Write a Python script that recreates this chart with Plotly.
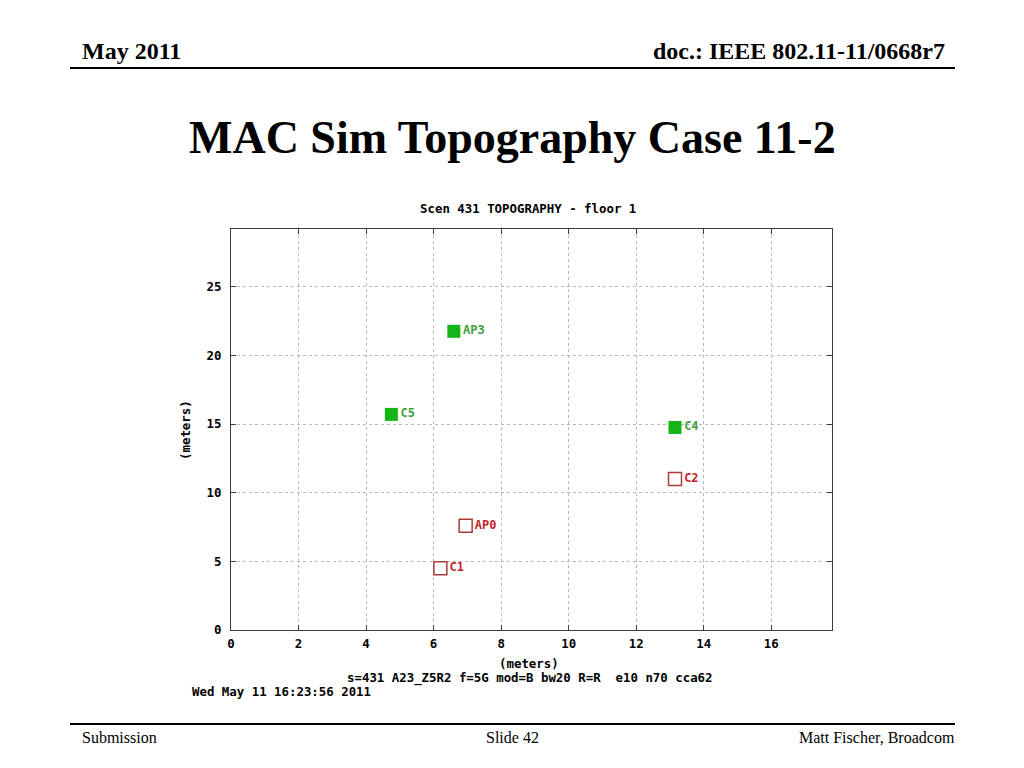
import plotly.graph_objects as go

# node positions (meters)
green_names = ["AP3", "C5", "C4"]
green_x = [6.6, 4.75, 13.15]
green_y = [21.75, 15.7, 14.75]

red_names = ["C2", "AP0", "C1"]
red_x = [13.15, 6.95, 6.2]
red_y = [11.0, 7.6, 4.5]

x_ticks = [0, 2, 4, 6, 8, 10, 12, 14, 16]
y_ticks = [0, 5, 10, 15, 20, 25]

mono = "DejaVu Sans Mono"
serif = "Liberation Serif"
ms = 12.4  # mono text size

# page drawn with an 8px body margin, so figure is a bit smaller than the window
OFF = 8
W, H = 1016, 760
L, T = 231 - OFF, 229 - OFF
R, B = W - (832 - OFF), H - (630 - OFF)
pw, ph = W - L - R, H - T - B


def px_x(p):
    return (p - OFF - L) / pw


def px_y(p):
    return (H - (p - OFF) - B) / ph


fig = go.Figure()
fig.add_trace(go.Scatter(
    x=green_x, y=green_y, text=green_names, mode="markers+text",
    textposition="middle right",
    marker=dict(symbol="square", size=13, color="rgb(20,180,20)"),
    textfont=dict(family=mono, size=12, color="rgb(60,160,60)", weight="bold"),
    cliponaxis=False, hoverinfo="skip"))
fig.add_trace(go.Scatter(
    x=red_x, y=red_y, text=red_names, mode="markers+text",
    textposition="middle right",
    marker=dict(symbol="square-open", size=13, color="rgb(170,60,60)",
                line=dict(width=1.5)),
    textfont=dict(family=mono, size=12, color="rgb(200,30,40)", weight="bold"),
    cliponaxis=False, hoverinfo="skip"))

axis_common = dict(
    showgrid=True, gridcolor="rgb(185,185,185)", griddash="dot", gridwidth=1,
    zeroline=False, showline=True, linecolor="rgb(60,60,60)", linewidth=1,
    mirror="all", ticks="inside", ticklen=5, tickcolor="rgb(60,60,60)",
    tickfont=dict(family=mono, size=ms, color="black", weight="bold"),
)
fig.update_xaxes(range=[0, 17.8], tickvals=x_ticks, ticklabelstandoff=2, **axis_common)
fig.update_yaxes(range=[0, 29.2], tickvals=y_ticks, ticklabelstandoff=6, **axis_common)


def note(text, px, py, size, family=mono, anchor="center", bold=True, angle=0):
    return dict(text=text, x=px_x(px), y=px_y(py), xref="paper", yref="paper",
                xanchor=anchor, yanchor="middle", showarrow=False, textangle=angle,
                font=dict(family=family, size=size, color="black",
                          weight="bold" if bold else "normal"))


subtitle = "s=431 A23_Z5R2 f=5G mod=B bw20 R=R&nbsp; e10 n70 cca62"

ann = [
    # chart texts
    note("Scen 431 TOPOGRAPHY - floor 1", 528, 208, ms),
    note("(meters)", 185, 430, ms, angle=-90),
    note("(meters)", 529, 663, ms),
    note(subtitle, 530, 678, ms),
    note("Wed May 11 16:23:56 2011", 190, 691, ms, anchor="left"),
    # slide header / footer
    note("May 2011", 80, 51, 24, family=serif, anchor="left"),
    note("doc.: IEEE 802.11-11/0668r7", 947, 51, 24, family=serif, anchor="right"),
    note("MAC Sim Topography Case 11-2", 512, 137, 46, family=serif),
    note("Submission", 80, 737, 16, family=serif, anchor="left", bold=False),
    note("Slide 42", 512, 737, 16, family=serif, bold=False),
    note("Matt Fischer, Broadcom", 957, 737, 16, family=serif, anchor="right", bold=False),
]

lines = [
    dict(type="line", xref="paper", yref="paper",
         x0=px_x(70), x1=px_x(955), y0=px_y(68), y1=px_y(68),
         line=dict(color="black", width=2)),
    dict(type="line", xref="paper", yref="paper",
         x0=px_x(70), x1=px_x(955), y0=px_y(724), y1=px_y(724),
         line=dict(color="black", width=2)),
]

fig.update_layout(
    width=W, height=H,
    margin=dict(l=L, r=R, t=T, b=B),
    paper_bgcolor="white", plot_bgcolor="white",
    showlegend=False,
    annotations=ann,
    shapes=lines,
)

fig.write_html("out.html")
